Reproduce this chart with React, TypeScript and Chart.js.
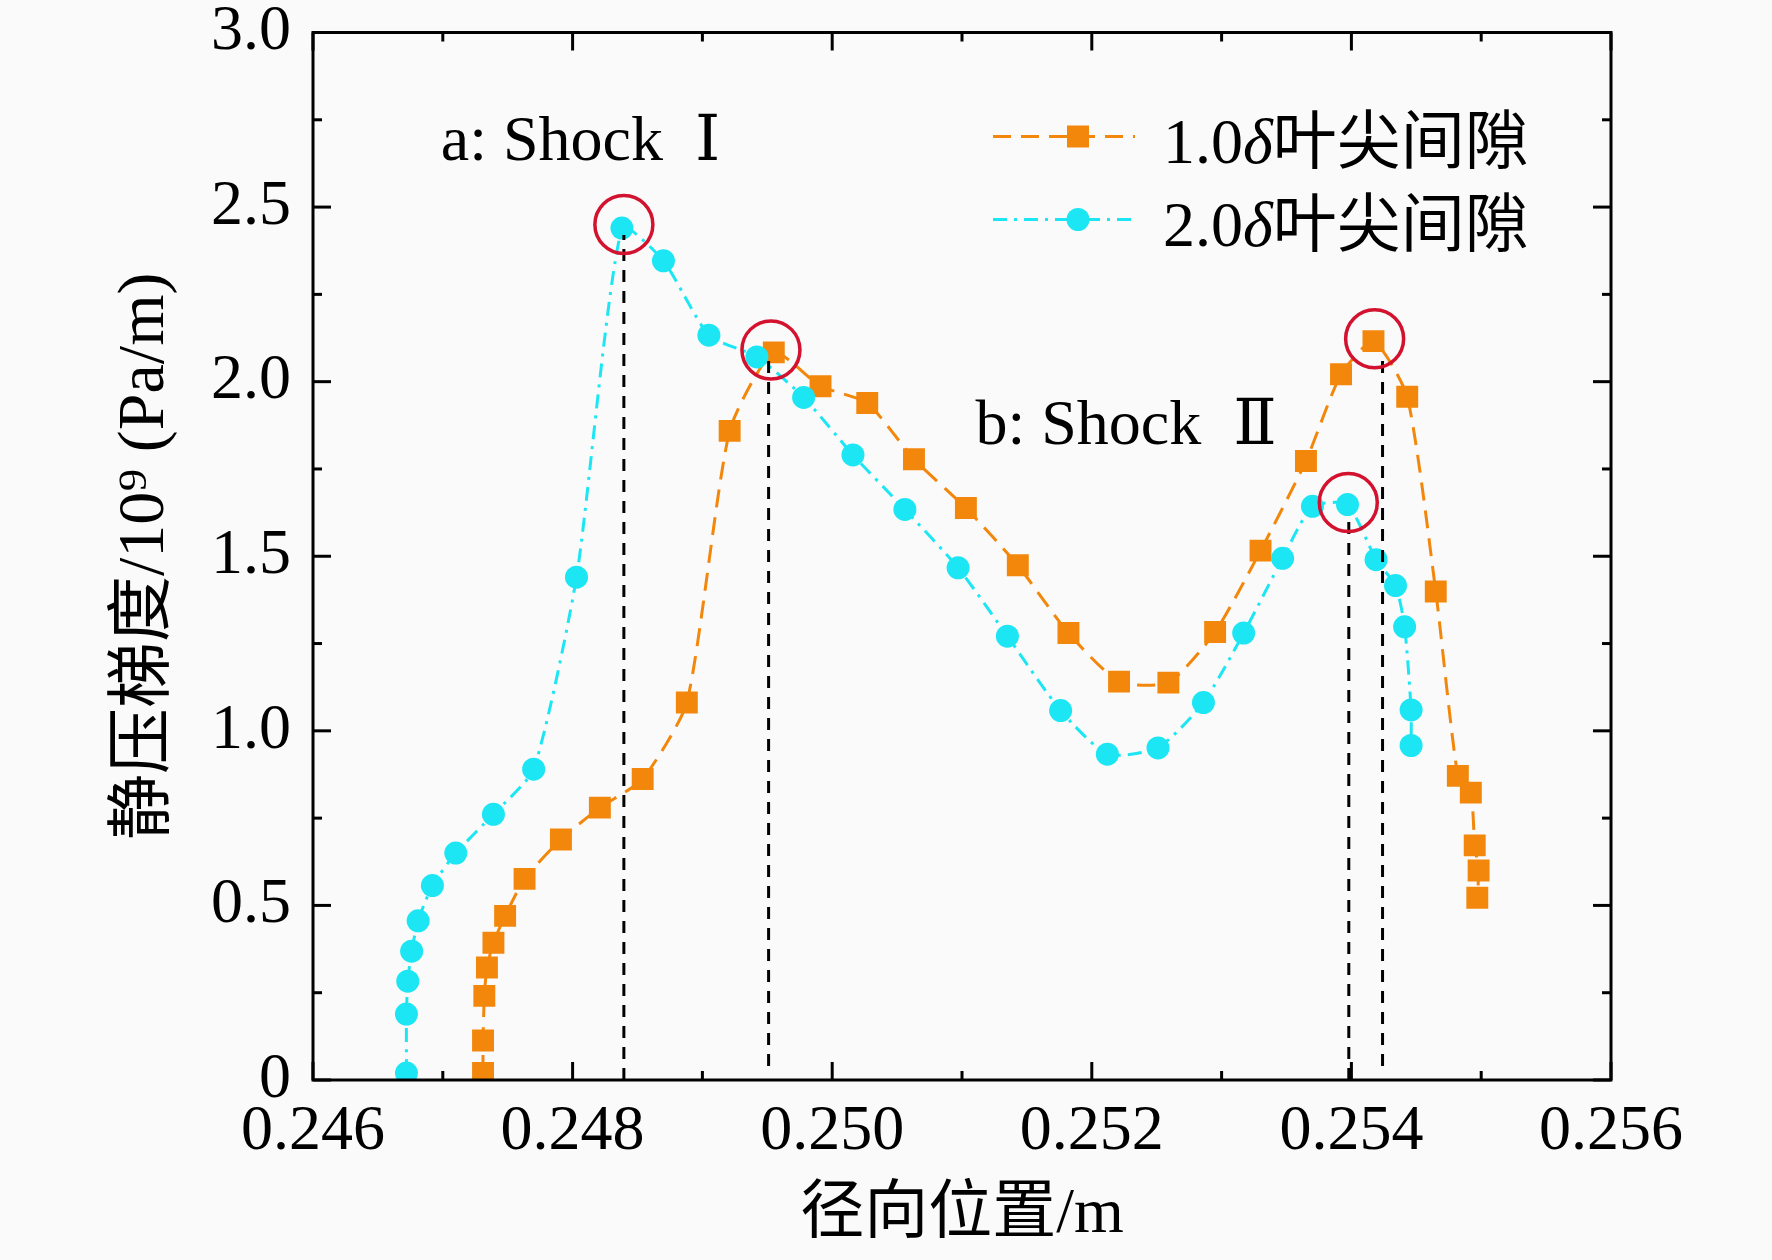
import { useEffect, useRef } from "react";
import { Chart, registerables } from "chart.js";

Chart.register(...registerables);

const SERIF = "'Liberation Serif', 'Times New Roman', 'DejaVu Serif', 'Noto Sans CJK SC', serif";
const ORANGE = "#f2870c";
const CYAN = "#1ce6f4";
const RED = "#d2122e";

const xTickValues = [0.246, 0.248, 0.25, 0.252, 0.254, 0.256];
const xTickLabels = ["0.246", "0.248", "0.250", "0.252", "0.254", "0.256"];
const yTickValues = [0, 0.5, 1, 1.5, 2, 2.5, 3];
const yTickLabels = ["0", "0.5", "1.0", "1.5", "2.0", "2.5", "3.0"];
const xMinorStep = 0.001;
const yMinorStep = 0.25;

// 1.0δ 叶尖间隙
const gap10X = [
    0.24731, 0.24731, 0.24732, 0.24734, 0.24739, 0.24748, 0.24763, 0.24791, 0.24821, 0.24854, 0.24888,
    0.24921, 0.24955, 0.24991, 0.25027, 0.25063, 0.25103, 0.25143, 0.25182, 0.25221, 0.25259, 0.25295,
    0.2533, 0.25365, 0.25392, 0.25417, 0.25443, 0.25465, 0.25482, 0.25492, 0.25495, 0.25498, 0.25497,
];
const gap10Y = [
    0.02, 0.113, 0.241, 0.322, 0.393, 0.47, 0.576, 0.689, 0.78, 0.862, 1.081,
    1.859, 2.084, 1.987, 1.939, 1.778, 1.638, 1.474, 1.28, 1.141, 1.138, 1.283,
    1.516, 1.773, 2.021, 2.116, 1.957, 1.399, 0.871, 0.823, 0.672, 0.6, 0.522,
];

// 2.0δ 叶尖间隙
const gap20X = [
    0.24672, 0.24672, 0.24673, 0.24676, 0.24681, 0.24692, 0.2471, 0.24739, 0.2477, 0.24803, 0.24838,
    0.2487, 0.24905, 0.24942, 0.24978, 0.25016, 0.25056, 0.25097, 0.25135, 0.25176, 0.25212, 0.25251,
    0.25286, 0.25317, 0.25347, 0.2537, 0.25397, 0.25419, 0.25434, 0.25441, 0.25446, 0.25446,
];
const gap20Y = [
    0.02, 0.189, 0.283, 0.369, 0.456, 0.557, 0.65, 0.761, 0.89, 1.44, 2.44,
    2.346, 2.133, 2.071, 1.955, 1.79, 1.634, 1.467, 1.271, 1.058, 0.933, 0.951,
    1.081, 1.28, 1.494, 1.643, 1.648, 1.49, 1.416, 1.298, 1.06, 0.958,
];

// red rings round the peaks
const peakX = [0.248395, 0.249528, 0.254179, 0.253976];
const peakY = [2.45, 2.091, 2.123, 1.654];

// black dashed guides under the peaks
const guideX = [0.248395, 0.24951, 0.25398, 0.25424];
const guideTop = [2.42, 2.077, 1.605, 2.084];
const guideBottom = [0.0, 0.04, 0.0, 0.04];

const noteText = ["a: Shock  Ⅰ", "b: Shock  Ⅱ"];
const noteX = [0.246984, 0.251104];
const noteY = [2.635, 1.822];

const legendNum = ["1.0", "2.0"];
const legendTail = "叶尖间隙";

const decorPlugin = {
    id: "decor",
    beforeDraw(chart: any) {
        const { ctx, width, height } = chart;
        ctx.save();
        ctx.fillStyle = "#fafafa";
        ctx.fillRect(0, 0, width, height);
        ctx.restore();
    },
    afterDatasetsDraw(chart: any) {
        const { ctx, chartArea: a } = chart;
        const xs = chart.scales.x;
        const ys = chart.scales.y;
        ctx.save();
        ctx.strokeStyle = "#000";
        ctx.lineWidth = 3;
        ctx.setLineDash([]);
        ctx.strokeRect(a.left, a.top, a.right - a.left, a.bottom - a.top);

        const seg = (x1: number, y1: number, x2: number, y2: number) => {
            ctx.beginPath();
            ctx.moveTo(x1, y1);
            ctx.lineTo(x2, y2);
            ctx.stroke();
        };
        // inward ticks on all four sides
        const nx = Math.round((xs.max - xs.min) / xMinorStep);
        for (let i = 0; i <= nx; i++) {
            const px = xs.getPixelForValue(xs.min + i * xMinorStep);
            const len = i % 2 === 0 ? 18 : 9;
            seg(px, a.bottom, px, a.bottom - len);
            seg(px, a.top, px, a.top + len);
        }
        const ny = Math.round((ys.max - ys.min) / yMinorStep);
        for (let i = 0; i <= ny; i++) {
            const py = ys.getPixelForValue(ys.min + i * yMinorStep);
            const len = i % 2 === 0 ? 18 : 9;
            seg(a.left, py, a.left + len, py);
            seg(a.right, py, a.right - len, py);
        }

        // notes
        ctx.fillStyle = "#000";
        ctx.textAlign = "left";
        ctx.textBaseline = "alphabetic";
        ctx.font = `64px ${SERIF}`;
        noteText.forEach((t, i) => {
            ctx.fillText(t, xs.getPixelForValue(noteX[i]), ys.getPixelForValue(noteY[i]));
        });

        // legend
        const rows = [a.top + 104, a.top + 187];
        const x0 = a.left + 680;
        const x1 = a.left + 822;
        const mx = a.left + 765;
        rows.forEach((cy, i) => {
            ctx.lineWidth = 3;
            if (i === 0) {
                ctx.strokeStyle = ORANGE;
                ctx.setLineDash([18, 10]);
            } else {
                ctx.strokeStyle = CYAN;
                ctx.setLineDash([14, 7, 3, 7]);
            }
            seg(x0, cy, x1, cy);
            ctx.setLineDash([]);
            if (i === 0) {
                ctx.fillStyle = ORANGE;
                ctx.fillRect(mx - 11, cy - 11, 22, 22);
            } else {
                ctx.fillStyle = CYAN;
                ctx.beginPath();
                ctx.arc(mx, cy, 11.5, 0, Math.PI * 2);
                ctx.fill();
            }
            ctx.fillStyle = "#000";
            const by = cy + 26;
            let tx = a.left + 850;
            ctx.font = `64px ${SERIF}`;
            ctx.fillText(legendNum[i], tx, by);
            tx += ctx.measureText(legendNum[i]).width;
            ctx.font = `italic 64px ${SERIF}`;
            ctx.fillText("δ", tx, by);
            tx += ctx.measureText("δ").width;
            ctx.font = `64px ${SERIF}`;
            ctx.fillText(legendTail, tx, by);
        });
        ctx.restore();
    },
};

const App = () => {
    const chartRef = useRef<HTMLCanvasElement>(null);
    const chartInstance = useRef<Chart | null>(null);

    useEffect(() => {
        document.body.style.margin = "0";
        if (!chartRef.current) return;

        const toPoints = (xsArr: number[], ysArr: number[]) => xsArr.map((x, i) => ({ x, y: ysArr[i] }));

        const guides = guideX.map((x, i) => ({
            label: "guide" + i,
            data: [
                { x, y: guideBottom[i] },
                { x, y: guideTop[i] },
            ],
            borderColor: "#000",
            borderWidth: 3,
            borderDash: [12, 9],
            pointRadius: 0,
            order: 1,
        }));

        const config = {
            type: "line",
            data: {
                datasets: [
                    {
                        label: "peaks",
                        data: toPoints(peakX, peakY),
                        showLine: false,
                        pointStyle: "circle",
                        pointRadius: 29,
                        pointBorderWidth: 3.5,
                        pointBorderColor: RED,
                        pointBackgroundColor: "rgba(0,0,0,0)",
                        order: 0,
                        clip: false,
                    },
                    ...guides,
                    {
                        label: "2.0δ叶尖间隙",
                        data: toPoints(gap20X, gap20Y),
                        borderColor: CYAN,
                        borderWidth: 3,
                        borderDash: [14, 7, 3, 7],
                        tension: 0.2,
                        pointStyle: "circle",
                        pointRadius: 11.5,
                        pointBorderWidth: 0,
                        pointBackgroundColor: CYAN,
                        order: 2,
                    },
                    {
                        label: "1.0δ叶尖间隙",
                        data: toPoints(gap10X, gap10Y),
                        borderColor: ORANGE,
                        borderWidth: 3,
                        borderDash: [18, 10],
                        tension: 0.2,
                        pointStyle: "rect",
                        pointRadius: 15.5,
                        pointBorderWidth: 0,
                        pointBackgroundColor: ORANGE,
                        order: 3,
                    },
                ],
            },
            options: {
                responsive: false,
                animation: false,
                events: [],
                layout: { padding: { left: 0, right: 161, top: 32, bottom: 0 } },
                plugins: {
                    legend: { display: false },
                    tooltip: { enabled: false },
                },
                scales: {
                    x: {
                        type: "linear",
                        min: 0.246,
                        max: 0.256,
                        afterBuildTicks: (s: any) => {
                            s.ticks = xTickValues.map(v => ({ value: v }));
                        },
                        afterFit: (s: any) => {
                            s.height = 180;
                            s.paddingLeft = 0;
                            s.paddingRight = 0;
                        },
                        ticks: {
                            color: "#000",
                            padding: 20,
                            maxRotation: 0,
                            autoSkip: false,
                            font: { family: SERIF, size: 64, lineHeight: 1 },
                            callback: (_v: any, i: number) => xTickLabels[i],
                        },
                        grid: { display: false, drawTicks: false },
                        border: { display: false },
                        title: {
                            display: true,
                            text: "径向位置/m",
                            color: "#000",
                            font: { family: SERIF, size: 64 },
                            padding: { top: 0, bottom: 6 },
                        },
                    },
                    y: {
                        type: "linear",
                        min: 0,
                        max: 3,
                        afterBuildTicks: (s: any) => {
                            s.ticks = yTickValues.map(v => ({ value: v }));
                        },
                        afterFit: (s: any) => {
                            s.width = 313;
                            s.paddingTop = 0;
                            s.paddingBottom = 0;
                        },
                        ticks: {
                            color: "#000",
                            padding: 22,
                            autoSkip: false,
                            font: { family: SERIF, size: 64, lineHeight: 1 },
                            callback: (_v: any, i: number) => yTickLabels[i],
                        },
                        grid: { display: false, drawTicks: false },
                        border: { display: false },
                        title: {
                            display: true,
                            text: "静压梯度/10⁹ (Pa/m)",
                            color: "#000",
                            font: { family: SERIF, size: 66 },
                            padding: { top: 106, bottom: 0 },
                        },
                    },
                },
            },
            plugins: [decorPlugin],
        };

        if (chartInstance.current) {
            chartInstance.current.destroy();
        }
        chartInstance.current = new Chart(chartRef.current, config as any);

        return () => {
            if (chartInstance.current) {
                chartInstance.current.destroy();
                chartInstance.current = null;
            }
        };
    }, []);

    return (
        <div style={{ width: 1772, height: 1260 }}>
            <canvas ref={chartRef} width={1772} height={1260} style={{ width: 1772, height: 1260 }} />
        </div>
    );
};

export default App;
